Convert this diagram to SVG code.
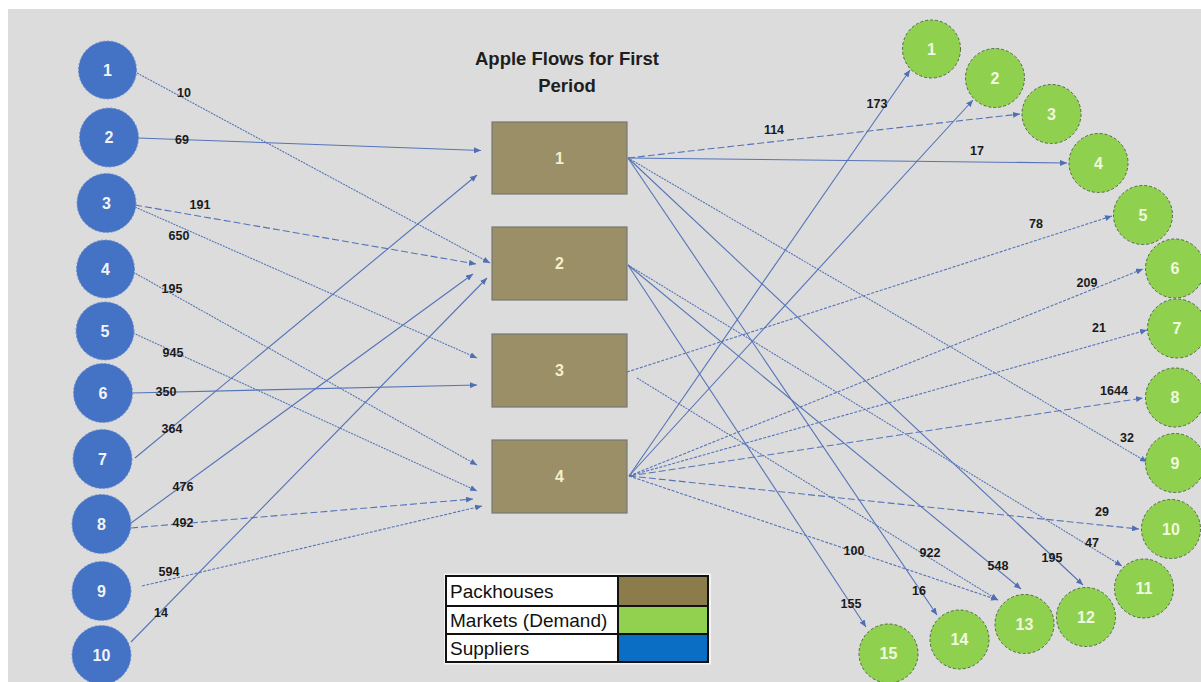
<svg xmlns="http://www.w3.org/2000/svg" width="1201" height="682" viewBox="0 0 1201 682">
  <style>
    .bg { fill: #dcdcdc; }
    .sup { fill: #4472c4; stroke: #6e8fd0; stroke-width: 1; stroke-dasharray: 2 2; }
    .mkt { fill: #8fd14f; stroke: #4f6b3c; stroke-width: 1; stroke-dasharray: 3 2; }
    .ph { fill: #9a8f66; stroke: #777777; stroke-width: 1.2; }
    .nlab { font-family: "Liberation Sans", Arial, sans-serif; font-weight: bold; font-size: 16px; text-anchor: middle; }
    .sl { fill: #f2f4fa; }
    .pl { fill: #f4efcc; }
    .ml { fill: #f2f8de; }
    .title { font-family: "Liberation Sans", Arial, sans-serif; font-weight: bold; font-size: 18.5px; fill: #1e1e1e; text-anchor: middle; }
    .edge { fill: none; stroke: #5574b8; stroke-width: 1.1; marker-end: url(#arr); }
    .dot { stroke-dasharray: 2 1; }
    .dash { stroke-dasharray: 7 3; }
    .sdash { stroke-dasharray: 3 1.5; }
    .elab { font-family: "Liberation Sans", Arial, sans-serif; font-weight: bold; font-size: 12.5px; fill: #1a1a1a; text-anchor: middle; }
    .leg { font-family: "Liberation Sans", Arial, sans-serif; font-size: 19px; fill: #111111; }
  </style>
  <defs>
    <marker id="arr" markerWidth="8" markerHeight="6" refX="7" refY="3" orient="auto" markerUnits="userSpaceOnUse">
      <path d="M0,0 L7,3 L0,6 z" fill="#4f6fb4"/>
    </marker>
  </defs>

  <!-- canvas -->
  <rect x="0" y="0" width="1201" height="682" fill="#ffffff"/>
  <rect class="bg" x="8" y="9" width="1193" height="673"/>

  <!-- title -->
  <g id="title">
    <text class="title" x="567" y="65">Apple Flows for First</text>
    <text class="title" x="567" y="92">Period</text>
  </g>

  <!-- flows -->
  <g id="connectors">
    <!-- suppliers to packhouses -->
    <line class="edge dot" x1="137" y1="73" x2="490" y2="263"/>
    <line class="edge" x1="138" y1="138" x2="481" y2="150.5"/>
    <line class="edge dash" x1="135" y1="205" x2="476" y2="264"/>
    <line class="edge dot" x1="135" y1="207" x2="477" y2="358"/>
    <line class="edge dot" x1="133" y1="272" x2="477" y2="465"/>
    <line class="edge dot" x1="133" y1="333" x2="477" y2="491"/>
    <line class="edge" x1="132" y1="393" x2="477" y2="385"/>
    <line class="edge" x1="135" y1="458" x2="477" y2="175"/>
    <line class="edge" x1="131" y1="523" x2="473" y2="274"/>
    <line class="edge dash" x1="131" y1="528" x2="473" y2="499"/>
    <line class="edge sdash" x1="142" y1="586" x2="482" y2="506"/>
    <line class="edge" x1="131" y1="642" x2="487" y2="278"/>

    <!-- packhouses to markets -->
    <line class="edge dash" x1="628" y1="158" x2="1020" y2="114"/>
    <line class="edge" x1="628" y1="158" x2="1067" y2="163"/>
    <line class="edge dot" x1="628" y1="158" x2="1147" y2="462"/>
    <line class="edge" x1="628" y1="158" x2="1083" y2="585"/>
    <line class="edge" x1="628" y1="158" x2="937" y2="615"/>
    <line class="edge dot" x1="628" y1="265" x2="1122" y2="566"/>
    <line class="edge" x1="628" y1="265" x2="1021" y2="589"/>
    <line class="edge" x1="628" y1="265" x2="866" y2="627"/>
    <line class="edge sdash" x1="627" y1="372" x2="1112" y2="216"/>
    <line class="edge dot" x1="637" y1="378" x2="998" y2="600"/>
    <line class="edge" x1="629" y1="476" x2="910" y2="70"/>
    <line class="edge" x1="629" y1="476" x2="973" y2="100"/>
    <line class="edge sdash" x1="629" y1="476" x2="1143" y2="269"/>
    <line class="edge sdash" x1="629" y1="476" x2="1147" y2="330"/>
    <line class="edge dash" x1="629" y1="476" x2="1143" y2="398"/>
    <line class="edge dash" x1="629" y1="476" x2="1139" y2="529"/>
    <line class="edge sdash" x1="629" y1="476" x2="998" y2="600"/>

    <!-- flow quantities -->
    <text class="elab" x="184" y="97">10</text>
    <text class="elab" x="182" y="144">69</text>
    <text class="elab" x="200" y="209">191</text>
    <text class="elab" x="179" y="240">650</text>
    <text class="elab" x="172" y="293">195</text>
    <text class="elab" x="173" y="357">945</text>
    <text class="elab" x="166" y="396">350</text>
    <text class="elab" x="172" y="433">364</text>
    <text class="elab" x="183" y="491">476</text>
    <text class="elab" x="183" y="527">492</text>
    <text class="elab" x="169" y="576">594</text>
    <text class="elab" x="161" y="617">14</text>

    <text class="elab" x="774" y="134">114</text>
    <text class="elab" x="977" y="155">17</text>
    <text class="elab" x="1127" y="442">32</text>
    <text class="elab" x="1052" y="562">195</text>
    <text class="elab" x="919" y="595">16</text>
    <text class="elab" x="1092" y="547">47</text>
    <text class="elab" x="998" y="570">548</text>
    <text class="elab" x="851" y="608">155</text>
    <text class="elab" x="1036" y="228">78</text>
    <text class="elab" x="930" y="557">922</text>
    <text class="elab" x="877" y="108">173</text>
    <text class="elab" x="1087" y="287">209</text>
    <text class="elab" x="1099" y="332">21</text>
    <text class="elab" x="1114" y="395">1644</text>
    <text class="elab" x="1102" y="516">29</text>
    <text class="elab" x="854" y="555">100</text>
  </g>

  <!-- suppliers -->
  <g id="supplier-1"><circle class="sup" cx="107.5" cy="70" r="29"/><text class="nlab sl" x="107.5" y="75.5">1</text></g>
  <g id="supplier-2"><circle class="sup" cx="109" cy="137.5" r="29.5"/><text class="nlab sl" x="109" y="143">2</text></g>
  <g id="supplier-3"><circle class="sup" cx="106.5" cy="203" r="29.5"/><text class="nlab sl" x="106.5" y="208.5">3</text></g>
  <g id="supplier-4"><circle class="sup" cx="105.5" cy="269" r="29"/><text class="nlab sl" x="105.5" y="274.5">4</text></g>
  <g id="supplier-5"><circle class="sup" cx="105" cy="331" r="29"/><text class="nlab sl" x="105" y="336.5">5</text></g>
  <g id="supplier-6"><circle class="sup" cx="103" cy="393" r="29.5"/><text class="nlab sl" x="103" y="398.5">6</text></g>
  <g id="supplier-7"><circle class="sup" cx="102.5" cy="459" r="29.5"/><text class="nlab sl" x="102.5" y="464.5">7</text></g>
  <g id="supplier-8"><circle class="sup" cx="101.5" cy="524" r="29.5"/><text class="nlab sl" x="101.5" y="529.5">8</text></g>
  <g id="supplier-9"><circle class="sup" cx="101.5" cy="591" r="29.5"/><text class="nlab sl" x="101.5" y="596.5">9</text></g>
  <g id="supplier-10"><circle class="sup" cx="101.5" cy="655" r="29.5"/><text class="nlab sl" x="101.5" y="660.5">10</text></g>

  <!-- packhouses -->
  <g id="packhouse-1"><rect class="ph" x="492" y="122" width="135" height="72"/><text class="nlab pl" x="559.5" y="163.5">1</text></g>
  <g id="packhouse-2"><rect class="ph" x="492" y="227" width="135" height="73"/><text class="nlab pl" x="559.5" y="269">2</text></g>
  <g id="packhouse-3"><rect class="ph" x="492" y="334" width="135" height="73"/><text class="nlab pl" x="559.5" y="376">3</text></g>
  <g id="packhouse-4"><rect class="ph" x="492" y="440" width="135" height="73"/><text class="nlab pl" x="559.5" y="482">4</text></g>

  <!-- markets -->
  <g id="market-1"><circle class="mkt" cx="931.5" cy="49" r="29"/><text class="nlab ml" x="931.5" y="54.5">1</text></g>
  <g id="market-2"><circle class="mkt" cx="995" cy="78" r="29.5"/><text class="nlab ml" x="995" y="83.5">2</text></g>
  <g id="market-3"><circle class="mkt" cx="1051.5" cy="114" r="29.5"/><text class="nlab ml" x="1051.5" y="119.5">3</text></g>
  <g id="market-4"><circle class="mkt" cx="1098.5" cy="163" r="29.5"/><text class="nlab ml" x="1098.5" y="168.5">4</text></g>
  <g id="market-5"><circle class="mkt" cx="1143" cy="215" r="29.5"/><text class="nlab ml" x="1143" y="220.5">5</text></g>
  <g id="market-6"><circle class="mkt" cx="1175" cy="268.5" r="29.5"/><text class="nlab ml" x="1175" y="274">6</text></g>
  <g id="market-7"><circle class="mkt" cx="1177" cy="328.5" r="29.5"/><text class="nlab ml" x="1177" y="334">7</text></g>
  <g id="market-8"><circle class="mkt" cx="1175" cy="397.5" r="29.5"/><text class="nlab ml" x="1175" y="403">8</text></g>
  <g id="market-9"><circle class="mkt" cx="1175" cy="463" r="29.5"/><text class="nlab ml" x="1175" y="468.5">9</text></g>
  <g id="market-10"><circle class="mkt" cx="1171" cy="529" r="29.5"/><text class="nlab ml" x="1171" y="534.5">10</text></g>
  <g id="market-11"><circle class="mkt" cx="1144" cy="588.5" r="29.5"/><text class="nlab ml" x="1144" y="594">11</text></g>
  <g id="market-12"><circle class="mkt" cx="1086" cy="617" r="29.5"/><text class="nlab ml" x="1086" y="622.5">12</text></g>
  <g id="market-13"><circle class="mkt" cx="1024.5" cy="624" r="29.5"/><text class="nlab ml" x="1024.5" y="629.5">13</text></g>
  <g id="market-14"><circle class="mkt" cx="959.5" cy="639.5" r="29.5"/><text class="nlab ml" x="959.5" y="645">14</text></g>
  <g id="market-15"><circle class="mkt" cx="888.5" cy="653.5" r="29.5"/><text class="nlab ml" x="888.5" y="659">15</text></g>

  <!-- legend -->
  <g id="legend">
    <rect x="444" y="573.5" width="267" height="91" fill="#f4f4f4"/>
    <rect x="446" y="576" width="172" height="86" fill="#ffffff"/>
    <rect x="618" y="576" width="90" height="30" fill="#8c7b4b"/>
    <rect x="618" y="606" width="90" height="28" fill="#92d050"/>
    <rect x="618" y="634" width="90" height="28" fill="#0a6fc4"/>
    <rect x="446" y="576" width="262" height="86" fill="none" stroke="#111111" stroke-width="2"/>
    <line x1="618" y1="576" x2="618" y2="662" stroke="#111111" stroke-width="2"/>
    <line x1="446" y1="606" x2="708" y2="606" stroke="#111111" stroke-width="2"/>
    <line x1="446" y1="634" x2="708" y2="634" stroke="#111111" stroke-width="2"/>
    <text class="leg" x="450" y="598">Packhouses</text>
    <text class="leg" x="450" y="627">Markets (Demand)</text>
    <text class="leg" x="450" y="655">Suppliers</text>
  </g>
</svg>
